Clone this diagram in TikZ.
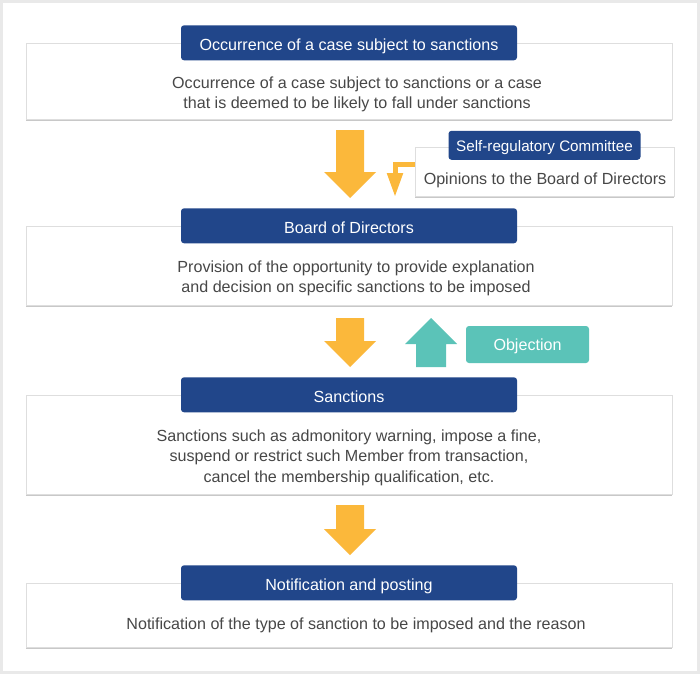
\documentclass[tikz,border=0pt]{standalone}
\usepackage{fontspec}
\setmainfont{Liberation Sans}
\usepackage{tikz}
\usetikzlibrary{positioning}
\usetikzlibrary{shapes,arrows.meta,shadows}
\definecolor{hdblue}{HTML}{21468A}
\definecolor{flowyellow}{HTML}{FBB83B}
\definecolor{objteal}{HTML}{5BC3B8}
\definecolor{txtgray}{HTML}{474747}
\definecolor{framegray}{HTML}{E9E9E9}
\tikzstyle{panel} = [rectangle, draw=black!13, fill=white, inner sep=0pt,
    drop shadow={shadow xshift=0pt, shadow yshift=-1.5pt, opacity=0.3, fill=black!70}]
\tikzstyle{header} = [rectangle, fill=hdblue, text=white, rounded corners=3pt,
    minimum width=336, minimum height=35, inner sep=0pt, text height=15.8pt, text depth=0pt,
    font=\fontsize{16.1}{18}\selectfont]
\tikzstyle{bodytext} = [align=center, text=txtgray, inner sep=0pt, font=\fontsize{16.1}{20.5}\selectfont]
\tikzstyle{yarrow} = [fill=flowyellow]
\tikzstyle{elbow} = [draw=flowyellow, line width=5pt, line join=miter, -{Triangle[width=15pt,length=24pt]}]

\begin{document}
\begin{tikzpicture}[x=1pt, y=-1pt]
        \useasboundingbox (0,0) rectangle (700,674);
        \fill[framegray] (0,0) rectangle (700,674);
        \fill[white] (3,3) rectangle (697,671);
        % panels
        \node [panel, minimum width=646, minimum height=76] (occ) at (349,81) {};
        \node [panel, minimum width=259, minimum height=49] (opin) at (544.5,171.5) {};
        \node [panel, minimum width=646, minimum height=79] (board) at (349,265.5) {};
        \node [panel, minimum width=646, minimum height=99] (sanc) at (349,444.5) {};
        \node [panel, minimum width=646, minimum height=64] (notif) at (349,615) {};
        % headers
        \node [header] (occhead) at (occ.north) {Occurrence of a case subject to sanctions};
        \node [header, minimum width=192, minimum height=29, text height=12.8pt,
            font=\fontsize{15.2}{17}\selectfont] (opinhead) at ([yshift=1.5pt]opin.north) {Self-regulatory Committee};
        \node [header] (boardhead) at (board.north) {Board of Directors};
        \node [header] (sanchead) at (sanc.north) {Sanctions};
        \node [header] (notifhead) at (notif.north) {Notification and posting};
        \node [header, fill=objteal, minimum width=123, minimum height=37, text height=12.8pt] (objection) at (527.5,344.5) {Objection};
        % texts
        \node [bodytext] (occtext) at (357,94.5) {Occurrence of a case subject to sanctions or a case\\that is deemed to be likely to fall under sanctions};
        \node [bodytext] (opintext) at (545,180) {Opinions to the Board of Directors};
        \node [bodytext] (boardtext) at (356,278.5) {Provision of the opportunity to provide explanation\\and decision on specific sanctions to be imposed};
        \node [bodytext] (sanctext) at (349,457.5) {Sanctions such as admonitory warning, impose a fine,\\suspend or restrict such Member from transaction,\\cancel the membership qualification, etc.};
        \node [bodytext] (notiftext) at (356,625) {Notification of the type of sanction to be imposed and the reason};
        % arrows
        \coordinate (optip) at (395,197);
        \draw [elbow] ([yshift=7pt]opin.west) -| (optip);
        \fill [yarrow] (336,130) -- (364,130) -- (364,172) -- (376,172) -- (350,198) -- (324,172) -- (336,172) -- cycle;
        \fill [yarrow] (336,318) -- (364,318) -- (364,341) -- (376,341) -- (350,367) -- (324,341) -- (336,341) -- cycle;
        \fill [yarrow] (336,505) -- (364,505) -- (364,529) -- (376,529) -- (350,555) -- (324,529) -- (336,529) -- cycle;
        \fill [objteal] (416,367) -- (446,367) -- (446,344) -- (457,344) -- (431,318) -- (405,344) -- (416,344) -- cycle;
    \end{tikzpicture}
\end{document}
